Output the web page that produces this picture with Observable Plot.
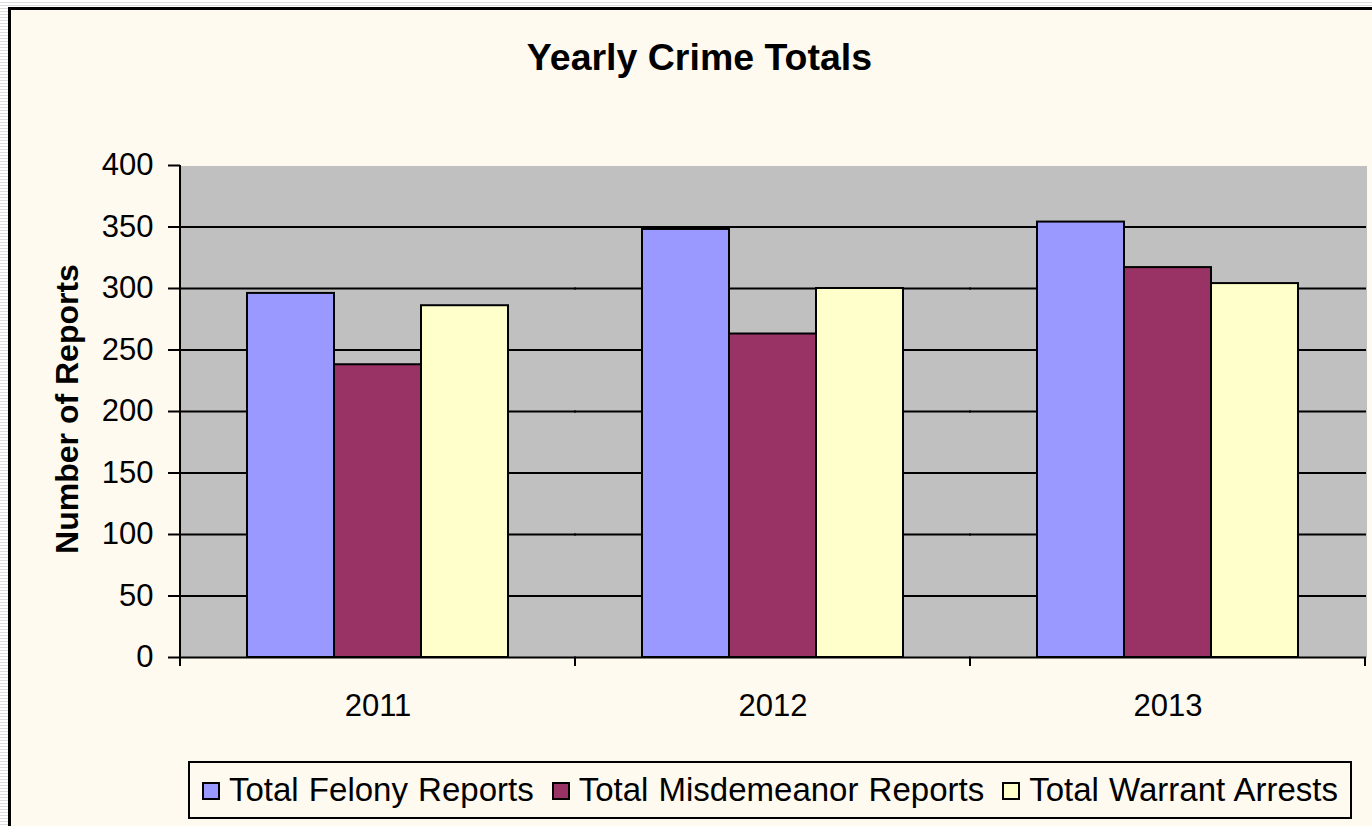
<!DOCTYPE html>
<html>
<head>
<meta charset="utf-8">
<script src="https://cdn.jsdelivr.net/npm/d3@7"></script>
<script src="https://cdn.jsdelivr.net/npm/@observablehq/plot@0.6"></script>
<style>
  html, body { margin: 0; padding: 0; }
  body {
    width: 1372px; height: 826px; overflow: hidden; position: relative;
    background: repeating-linear-gradient(to bottom, #ffffff 0px, #ffffff 2px, #dcdcdc 2px, #dcdcdc 3px);
    font-family: "Liberation Sans", Arial, sans-serif; color: #000;
  }
  #bg {
    position: absolute; left: 8px; top: 7px; width: 1400px; height: 840px;
    border-left: 3px solid #000; border-top: 3px solid #000;
    background: #fffaf0; box-sizing: border-box;
  }
  #title {
    position: absolute; left: 0; top: 39px; width: 1399px; text-align: center;
    font-size: 37.5px; font-weight: bold; line-height: 37.5px; white-space: nowrap;
  }
  #ytitle {
    position: absolute; left: -133.5px; top: 393px; width: 400px; height: 32px;
    line-height: 32px; text-align: center; font-size: 32px; font-weight: bold;
    transform: rotate(-90deg); white-space: nowrap;
  }
  #plot { position: absolute; left: 0; top: 0; }
  #legend {
    position: absolute; left: 188px; top: 761px; width: 1164px; height: 58px;
    border: 2px solid #000; box-sizing: border-box; background: #fffaf0;
    display: flex; align-items: center; padding-left: 12px;
  }
  .item { display: flex; align-items: center; margin-right: 18px; }
  .sw { width: 18px; height: 18px; border: 2px solid #000; box-sizing: border-box; margin-right: 9px; margin-top: 2px; }
  .lab { font-size: 33px; line-height: 36px; white-space: nowrap; word-spacing: 1px; }
</style>
</head>
<body>
<div id="bg"></div>
<div id="title">Yearly Crime Totals</div>
<div id="ytitle">Number of Reports</div>
<div id="plot"></div>
<div id="legend"></div>
<script>
// ---- data ----
const years = ["2011", "2012", "2013"];
const series = ["Total Felony Reports", "Total Misdemeanor Reports", "Total Warrant Arrests"];
const felony = [296, 348, 354];
const misdemeanor = [238, 263, 317];
const warrant = [286, 300, 304];
const yTicks = [0, 50, 100, 150, 200, 250, 300, 350, 400];
const colors = ["#9999ff", "#993366", "#ffffcc"];

const valuesBySeries = [felony, misdemeanor, warrant];
const data = years.flatMap((year, i) =>
  series.map((s, j) => ({year, series: s, value: valuesBySeries[j][i]}))
);
const yMax = yTicks[yTicks.length - 1];
const gridTicks = yTicks.filter(v => v > 0 && v < yMax);

const chart = Plot.plot({
  width: 1372,
  height: 760,
  marginTop: 165,
  marginBottom: 103,
  marginLeft: 180,
  marginRight: 7,
  style: {background: "transparent", fontFamily: "'Liberation Sans', Arial, sans-serif", color: "#000"},
  fx: {domain: years, padding: 0, axis: null},
  x: {domain: series, paddingInner: 0, paddingOuter: 0.75, axis: null},
  y: {domain: [0, yMax], axis: null},
  color: {domain: series, range: colors},
  marks: [
    Plot.frame({fill: "#c0c0c0", stroke: "none", insetLeft: -1, insetRight: -1, shapeRendering: "crispEdges"}),
    Plot.ruleY(gridTicks, {stroke: "#000", strokeWidth: 2, insetLeft: -1, insetRight: -1}),
    Plot.barY(data, {fx: "year", x: "series", y: "value", fill: "series", stroke: "#000", strokeWidth: 2}),
    Plot.ruleY([0], {stroke: "#000", strokeWidth: 2, insetLeft: -1, insetRight: -1}),
    Plot.axisY({anchor: "left", ticks: yTicks, tickSize: 12, tickPadding: 15, strokeWidth: 2, label: null, fontSize: 31, tickFormat: d => String(d)}),
    Plot.axisFx({anchor: "bottom", tickSize: 0, tickPadding: 36, label: null, fontSize: 31})
  ]
});
document.getElementById("plot").appendChild(chart);

// axis line and category-boundary ticks, positioned with Plot's scales
try {
  const fxS = chart.scale("fx");
  const yS = chart.scale("y");
  const y0 = yS.apply(0), yTop = yS.apply(yMax);
  const bw = fxS.bandwidth;
  const xs = years.map(y => fxS.apply(y));
  xs.push(xs[xs.length - 1] + bw);
  const g = d3.select(chart).append("g").attr("stroke", "#000").attr("stroke-width", 2);
  g.append("line").attr("x1", xs[0]).attr("x2", xs[0]).attr("y1", yTop).attr("y2", y0 + 1);
  g.selectAll("line.bt").data(xs).join("line").attr("class", "bt")
    .attr("x1", d => d).attr("x2", d => d).attr("y1", y0).attr("y2", y0 + 9);
} catch (e) { console.error(e); }

// legend
const legend = d3.select("#legend");
series.forEach((s, j) => {
  const it = legend.append("div").attr("class", "item");
  it.append("div").attr("class", "sw").style("background", colors[j]);
  it.append("div").attr("class", "lab").text(s);
});
</script>
</body>
</html>
